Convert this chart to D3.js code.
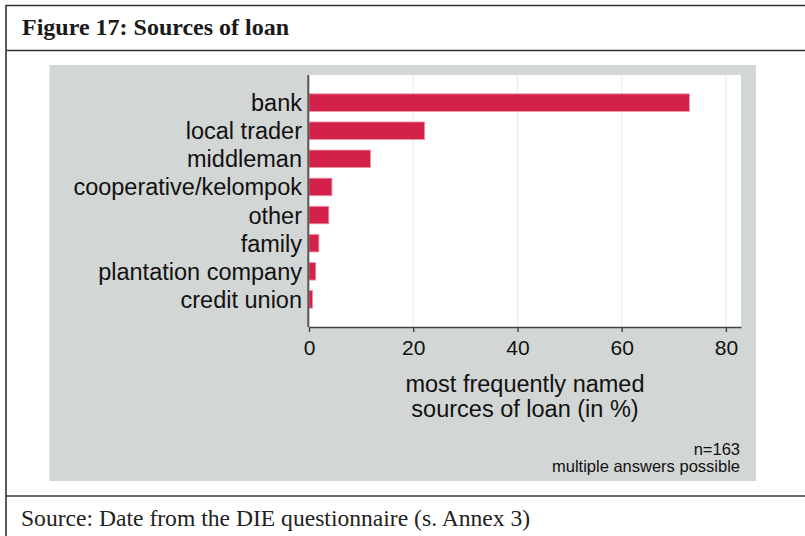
<!DOCTYPE html>
<html>
<head>
<meta charset="utf-8">
<script src="https://cdn.jsdelivr.net/npm/d3@7"></script>
<style>
  body { margin: 0; background: #fff; }
  svg { display: block; }
</style>
</head>
<body>
<div id="chart"></div>
<script>
// data (n=163)
var sources = ["bank", "local trader", "middleman", "cooperative/kelompok", "other", "family", "plantation company", "credit union"];
var shares = [73.0, 22.2, 11.8, 4.4, 3.8, 1.9, 1.3, 0.7];
var xTicks = [0, 20, 40, 60, 80];
var titleText = "Figure 17: Sources of loan";
var axisTitle = ["most frequently named", "sources of loan (in %)"];
var notes = ["n=163", "multiple answers possible"];
var sourceText = "Source: Date from the DIE questionnaire (s. Annex 3)";

var W = 805, H = 536;
var svg = d3.select("#chart").append("svg")
    .attr("width", W)
    .attr("height", H);

// frame of the figure box
var frame = svg.append("g").attr("stroke", "#333").attr("stroke-width", 1.6);
frame.append("line").attr("x1", 6).attr("x2", 6).attr("y1", 5).attr("y2", H);
frame.append("line").attr("x1", 6).attr("x2", W).attr("y1", 5.5).attr("y2", 5.5);
frame.append("line").attr("x1", 6).attr("x2", W).attr("y1", 50.5).attr("y2", 50.5);
frame.append("line").attr("x1", 6).attr("x2", W).attr("y1", 496).attr("y2", 496);

svg.append("text")
    .attr("x", 22).attr("y", 35)
    .attr("font-family", "Liberation Serif, Times New Roman, serif")
    .attr("font-weight", "bold")
    .attr("font-size", 24)
    .attr("fill", "#1a1a1a")
    .text(titleText);

svg.append("text")
    .attr("x", 21).attr("y", 526)
    .attr("font-family", "Liberation Serif, Times New Roman, serif")
    .attr("font-size", 23.6)
    .attr("fill", "#222")
    .text(sourceText);

// grey graph region
svg.append("rect")
    .attr("x", 49.5).attr("y", 65)
    .attr("width", 756 - 49.5).attr("height", 481 - 65)
    .attr("fill", "#d2d6d5");

var plot = { left: 309, right: 741, top: 75, bottom: 327 };

svg.append("rect")
    .attr("x", plot.left).attr("y", plot.top)
    .attr("width", plot.right - plot.left).attr("height", plot.bottom - plot.top)
    .attr("fill", "#fff");

var x = d3.scaleLinear()
    .domain([0, 82.9])
    .range([plot.left, plot.right]);

var y = d3.scaleBand()
    .domain(sources)
    .range([plot.top, plot.bottom])
    .paddingInner(0.375)
    .paddingOuter(0.67);

// grid lines
svg.append("g")
    .selectAll("line")
    .data(xTicks.slice(1))
    .join("line")
    .attr("x1", d => x(d)).attr("x2", d => x(d))
    .attr("y1", plot.top).attr("y2", plot.bottom)
    .attr("stroke", "#e3ecec")
    .attr("stroke-width", 1);

// bars
svg.append("g")
    .selectAll("rect")
    .data(shares)
    .join("rect")
    .attr("x", x(0))
    .attr("y", (d, i) => y(sources[i]))
    .attr("width", d => x(d) - x(0))
    .attr("height", y.bandwidth())
    .attr("fill", "#d42149")
    .attr("stroke", "#ee9aab")
    .attr("stroke-width", 0.8);

// category labels
svg.append("g")
    .selectAll("text")
    .data(sources)
    .join("text")
    .attr("x", 302)
    .attr("y", d => y(d) + y.bandwidth() / 2)
    .attr("dy", "0.36em")
    .attr("text-anchor", "end")
    .attr("font-family", "Liberation Sans, Arial, sans-serif")
    .attr("font-size", 23.5)
    .attr("fill", "#111")
    .text(d => d);

// y axis line
svg.append("line")
    .attr("x1", 308.3).attr("x2", 308.3)
    .attr("y1", plot.top).attr("y2", plot.bottom)
    .attr("stroke", "#555").attr("stroke-width", 2);

// x axis
var xAxis = svg.append("g")
    .attr("transform", `translate(0,${plot.bottom})`)
    .call(d3.axisBottom(x).tickValues(xTicks).tickSize(5).tickPadding(8).tickSizeOuter(0));

xAxis.select(".domain").attr("stroke", "#444").attr("stroke-width", 1.6);
xAxis.selectAll(".tick line").attr("stroke", "#444").attr("stroke-width", 1.4);
xAxis.selectAll(".tick text")
    .attr("font-family", "Liberation Sans, Arial, sans-serif")
    .attr("font-size", 21)
    .attr("fill", "#111");

// axis title
svg.append("text")
    .attr("x", (plot.left + plot.right) / 2)
    .attr("text-anchor", "middle")
    .attr("font-family", "Liberation Sans, Arial, sans-serif")
    .attr("font-size", 23.5)
    .attr("fill", "#111")
    .selectAll("tspan")
    .data(axisTitle)
    .join("tspan")
    .attr("x", (plot.left + plot.right) / 2)
    .attr("y", (d, i) => 392 + i * 25)
    .text(d => d);

// notes
svg.append("g")
    .selectAll("text")
    .data(notes)
    .join("text")
    .attr("x", 740)
    .attr("y", (d, i) => 455 + i * 17)
    .attr("text-anchor", "end")
    .attr("font-family", "Liberation Sans, Arial, sans-serif")
    .attr("font-size", 16.5)
    .attr("fill", "#111")
    .text(d => d);
</script>
</body>
</html>
